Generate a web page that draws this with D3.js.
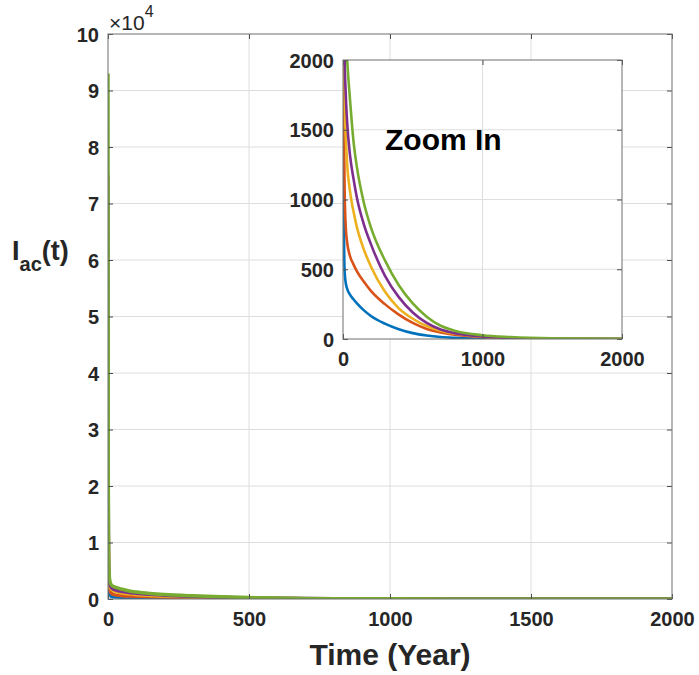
<!DOCTYPE html>
<html>
<head>
<meta charset="utf-8">
<script src="https://cdn.jsdelivr.net/npm/d3@7"></script>
<style>
  body { margin: 0; background: #fff; }
  svg { font-family: "Liberation Sans", Arial, sans-serif; }
  .tick text { font-size: 20px; font-weight: bold; fill: #262626; }
  .grid line { stroke: #dedede; stroke-width: 1; }
  .box { fill: none; stroke: #6e6e6e; stroke-width: 1; }
</style>
</head>
<body>
<div id="chart"></div>
<script>
// time points (years) shared by all five curves
var years = [0, 1, 2, 3, 5, 8, 12, 20, 30, 50, 75, 100, 150, 200, 300, 400, 500, 600, 700, 800, 1000, 1200, 1500, 2000];

// I_ac(t), one array per curve
var blueVals   = [20000, 6000, 3000, 1800, 1000, 650, 480, 400, 360, 318, 285, 255, 205, 165, 110, 70, 42, 25, 14, 8, 2, 1, 0, 0];
var orangeVals = [38000, 10000, 5000, 3200, 2000, 1400, 1050, 800, 690, 595, 535, 485, 410, 345, 250, 175, 115, 72, 46, 30, 14, 5, 1, 0];
var yellowVals = [56000, 12000, 5500, 3300, 2300, 1950, 1700, 1450, 1250, 1060, 915, 800, 640, 520, 340, 220, 145, 93, 60, 39, 16, 7, 2, 0];
var purpleVals = [75000, 16000, 7000, 4500, 3000, 2400, 2000, 1750, 1550, 1320, 1150, 1010, 820, 680, 455, 300, 190, 115, 68, 42, 18, 7, 2, 0];
var greenVals  = [93000, 22000, 10000, 6000, 3800, 2900, 2500, 2200, 2000, 1720, 1420, 1230, 975, 800, 565, 385, 255, 160, 95, 60, 27, 14, 5, 1];

var seriesColors = ["#0072BD", "#D95319", "#EDB120", "#7E2F8E", "#77AC30"];
var seriesVals = [blueVals, orangeVals, yellowVals, purpleVals, greenVals];

var mainXTicks = [0, 500, 1000, 1500, 2000];
var mainYTicks = [0, 1, 2, 3, 4, 5, 6, 7, 8, 9, 10]; // x 10^4
var insetXTicks = [0, 1000, 2000];
var insetYTicks = [0, 500, 1000, 1500, 2000];

var width = 699, height = 675;

var svg = d3.select("#chart").append("svg")
  .attr("width", width)
  .attr("height", height);

svg.append("rect").attr("width", width).attr("height", height).attr("fill", "#fff");

var series = seriesVals.map(function(vals, i) {
  return { color: seriesColors[i], values: years.map(function(t, j) { return { t: t, v: vals[j] }; }) };
});

// draws one set of axes (grid, curves, box with inward ticks)
function drawPanel(g, x, y, xTicks, yTicks, yFmt, lineW, clipId) {
  var x0 = x.range()[0], x1 = x.range()[1], y0 = y.range()[0], y1 = y.range()[1];

  var grid = g.append("g").attr("class", "grid");
  grid.selectAll(".gx")
    .data(xTicks.filter(function(d) { return d > x.domain()[0] && d < x.domain()[1]; }))
    .enter().append("line")
      .attr("x1", function(d) { return x(d); })
      .attr("x2", function(d) { return x(d); })
      .attr("y1", y0).attr("y2", y1);
  grid.selectAll(".gy")
    .data(yTicks.filter(function(d) { return d > y.domain()[0] && d < y.domain()[1]; }))
    .enter().append("line")
      .attr("x1", x0).attr("x2", x1)
      .attr("y1", function(d) { return y(d); })
      .attr("y2", function(d) { return y(d); });

  g.append("clipPath").attr("id", clipId)
    .append("rect")
      .attr("x", x0).attr("y", y1)
      .attr("width", x1 - x0).attr("height", y0 - y1);

  var line = d3.line()
    .curve(d3.curveMonotoneX)
    .x(function(d) { return x(d.t); })
    .y(function(d) { return y(d.v); });

  g.append("g").attr("clip-path", "url(#" + clipId + ")")
    .selectAll("path")
    .data(series)
    .enter().append("path")
      .attr("d", function(d) { return line(d.values); })
      .attr("fill", "none")
      .attr("stroke", function(d) { return d.color; })
      .attr("stroke-width", lineW)
      .attr("stroke-linejoin", "round");

  // bottom + left with labels, top + right ticks only
  var ax = g.append("g").attr("transform", "translate(0," + y0 + ")")
    .call(d3.axisBottom(x).tickValues(xTicks).tickFormat(d3.format("d")).tickSizeInner(-5).tickSizeOuter(0).tickPadding(13));
  var ay = g.append("g").attr("transform", "translate(" + x0 + ",0)")
    .call(d3.axisLeft(y).tickValues(yTicks).tickFormat(yFmt).tickSizeInner(-5).tickSizeOuter(0).tickPadding(9));
  var at = g.append("g").attr("transform", "translate(0," + y1 + ")")
    .call(d3.axisTop(x).tickValues(xTicks).tickFormat("").tickSizeInner(-5).tickSizeOuter(0));
  var ar = g.append("g").attr("transform", "translate(" + x1 + ",0)")
    .call(d3.axisRight(y).tickValues(yTicks).tickFormat("").tickSizeInner(-5).tickSizeOuter(0));

  [ax, ay, at, ar].forEach(function(a) {
    a.select(".domain").remove();
    a.selectAll(".tick line").attr("stroke", "#4d4d4d");
    a.attr("font-family", null).attr("font-size", null);
  });
  ay.selectAll(".tick text").attr("dy", "0.36em");

  g.append("rect").attr("class", "box")
    .attr("x", x0).attr("y", y1)
    .attr("width", x1 - x0).attr("height", y0 - y1);
}

// main axes
var mx = d3.scaleLinear().domain([0, 2000]).range([108, 672]);
var my = d3.scaleLinear().domain([0, 100000]).range([599, 34]);
var mainG = svg.append("g");
drawPanel(mainG, mx, my, mainXTicks, mainYTicks.map(function(d) { return d * 1e4; }),
  function(d) { return d / 1e4; }, 3.5, "clipMain");

// exponent marker
var expo = svg.append("text")
  .attr("x", 109)
  .attr("y", 30)
  .attr("font-size", 21)
  .attr("fill", "#262626");
expo.append("tspan").text("\u00d710");
expo.append("tspan").attr("dy", -13).attr("font-size", 16).text("4");

// inset
var ix = d3.scaleLinear().domain([0, 2000]).range([343, 622]);
var iy = d3.scaleLinear().domain([0, 2000]).range([339, 60]);
var insetG = svg.append("g");
insetG.append("rect")
  .attr("x", 343).attr("y", 60)
  .attr("width", 279).attr("height", 279)
  .attr("fill", "#fff");
drawPanel(insetG, ix, iy, insetXTicks, insetYTicks, d3.format("d"), 2.6, "clipInset");

insetG.append("text")
  .attr("x", 385)
  .attr("y", 150)
  .attr("font-size", 30)
  .attr("font-weight", "bold")
  .attr("fill", "#000")
  .text("Zoom In");

// axis labels
svg.append("text")
  .attr("x", 390)
  .attr("y", 665)
  .attr("text-anchor", "middle")
  .attr("font-size", 30)
  .attr("font-weight", "bold")
  .attr("fill", "#262626")
  .text("Time (Year)");

var ylab = svg.append("text")
  .attr("x", 12)
  .attr("y", 260)
  .attr("font-size", 27)
  .attr("font-weight", "bold")
  .attr("fill", "#262626");
ylab.append("tspan").text("I");
ylab.append("tspan").attr("dy", 11).attr("font-size", 20).text("ac");
ylab.append("tspan").attr("dy", -11).text("(t)");
</script>
</body>
</html>
